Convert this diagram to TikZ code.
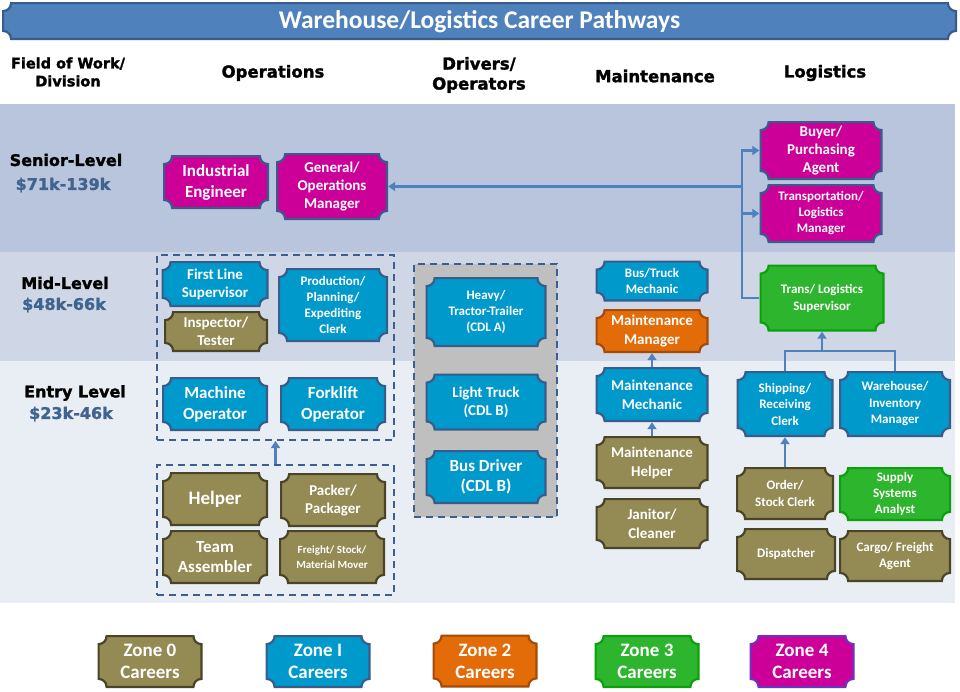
\documentclass[tikz,border=0pt]{standalone}
\usepackage{fontspec}
\setmainfont{Carlito}
\newfontfamily\headfont{DejaVu Sans}[BoldFeatures={FakeBold=1.6}]
\usetikzlibrary{calc,arrows.meta}
\definecolor{magentaF}{HTML}{CC0099}
\definecolor{blueF}{HTML}{0099CC}
\definecolor{oliveF}{HTML}{948A54}
\definecolor{greenF}{HTML}{2EB52E}
\definecolor{orangeF}{HTML}{E36C09}
\definecolor{titleF}{HTML}{4F81BD}
\definecolor{blueB}{HTML}{385D8A}
\definecolor{oliveB}{HTML}{4A4527}
\definecolor{greenB}{HTML}{0CA00C}
\definecolor{orangeB}{HTML}{A34C0A}
\definecolor{purpleB}{HTML}{7030C0}
\definecolor{seniorF}{HTML}{B9C4DD}
\definecolor{midF}{HTML}{CFD7E7}
\definecolor{entryF}{HTML}{E9EDF4}
\definecolor{grayF}{HTML}{BFBFBF}
\definecolor{dashB}{HTML}{3B5F8F}
\definecolor{arrowC}{HTML}{4F81BD}
\definecolor{salaryC}{HTML}{41648E}
\tikzset{
  job/.style 2 args={rectangle, inner sep=0pt, text=white, align=center,
    path picture={\path[fill=#1, draw=#2, line width=2.2pt, x=1pt, y=1pt]
      let \p1=($(path picture bounding box.south west)+(1.1pt,1.1pt)$),
          \p2=($(path picture bounding box.north east)-(1.1pt,1.1pt)$) in
      ({\x1+8pt},\y2) -- ({\x2-8pt},\y2) arc[start angle=180,end angle=270,radius=8pt]
      -- (\x2,{\y1+8pt}) arc[start angle=90,end angle=180,radius=8pt]
      -- ({\x1+8pt},\y1) arc[start angle=0,end angle=90,radius=8pt]
      -- (\x1,{\y2-8pt}) arc[start angle=270,end angle=360,radius=8pt] -- cycle;}},
  wh/.style 2 args={minimum width=#1pt, minimum height=#2pt},
  fs/.style 2 args={font=\bfseries\fontsize{#1}{#2}\selectfont},
  head/.style={align=center, inner sep=0pt, font=\headfont\bfseries\fontsize{16.5}{20}\selectfont},
  level/.style={inner sep=0pt, font=\headfont\bfseries\fontsize{16}{19}\selectfont},
  salary/.style={level, text=salaryC},
  group/.style={draw=dashB, line width=2pt, dash pattern=on 7pt off 5pt, inner sep=0pt},
  link/.style={draw=arrowC, line width=2.6pt},
  arr/.style={link, -{Triangle[length=7pt,width=9pt]}}
}
\begin{document}
\begin{tikzpicture}[x=1pt,y=-1pt]
      \useasboundingbox (0,0) rectangle (960,691);
      \fill[white] (0,0) rectangle (960,691);
      \fill[seniorF] (0,104) rectangle (955,252);
      \fill[midF] (0,252) rectangle (955,361);
      \fill[entryF] (0,361) rectangle (955,603);

      \node[job={titleF}{blueB}, wh={955}{38}, fs={25.5}{28}, text depth=3pt] (title) at (479.5,21) {Warehouse/Logistics Career Pathways};

      \node[head, font=\headfont\bfseries\fontsize{14.5}{18}\selectfont] (fow) at (68,72) {Field of Work/\\Division};
      \node[head] (ops) at (273,73) {Operations};
      \node[head] (drv) at (479,75) {Drivers/\\Operators};
      \node[head] (mnt) at (655,76) {Maintenance};
      \node[head] (lgs) at (825,73) {Logistics};

      \node[level] (senior) at (66,160) {Senior-Level};
      \node[salary] (sal1) at (63,185) {\$71k-139k};
      \node[level] (mid) at (65,283) {Mid-Level};
      \node[salary] (sal2) at (64,305) {\$48k-66k};
      \node[level] (entry) at (75,393) {Entry Level};
      \node[salary] (sal3) at (71,414) {\$23k-46k};

      \node[group, wh={237}{185}] (opsmid) at (275.5,347.5) {};
      \node[group, wh={237}{130}] (opsent) at (275.5,530) {};
      \node[group, fill=grayF, wh={143}{253}] (drvgrp) at (485.5,390.5) {};

      \node[job={magentaF}{blueB}, wh={106}{54}, fs={17}{21}] (ie) at (216,182) {Industrial\\Engineer};
      \node[job={magentaF}{blueB}, wh={112}{67}, fs={15}{18}] (gom) at (332,186.5) {General/\\Operations\\Manager};
      \node[job={magentaF}{blueB}, wh={123}{59}, fs={15}{18}] (buy) at (821,150.5) {Buyer/\\Purchasing\\Agent};
      \node[job={magentaF}{blueB}, wh={123}{59}, fs={13}{16}] (tlm) at (821,213.5) {Transportation/\\Logistics\\Manager};

      \node[job={blueF}{blueB}, wh={107}{46}, fs={15}{18}] (fls) at (215,284) {First Line\\Supervisor};
      \node[job={oliveF}{oliveB}, wh={104}{41}, fs={15}{18}] (ins) at (216,331.5) {Inspector/\\Tester};
      \node[job={blueF}{blueB}, wh={110}{74}, fs={13}{16}] (pec) at (333,305) {Production/\\Planning/\\Expediting\\Clerk};
      \node[job={blueF}{blueB}, wh={106}{54}, fs={17}{21}] (mop) at (215,404) {Machine\\Operator};
      \node[job={blueF}{blueB}, wh={106}{54}, fs={17}{21}] (fop) at (333,404) {Forklift\\Operator};
      \node[job={oliveF}{oliveB}, wh={106}{54}, fs={19}{22}] (hlp) at (215,499) {Helper};
      \node[job={oliveF}{oliveB}, wh={106}{54}, fs={15}{18}] (pak) at (333,500) {Packer/\\Packager};
      \node[job={oliveF}{oliveB}, wh={106}{54}, fs={17}{20}] (tas) at (215,557) {Team\\Assembler};
      \node[job={oliveF}{oliveB}, wh={106}{54}, fs={11}{15}] (frt) at (332,557) {Freight/ Stock/\\Material Mover};

      \node[job={blueF}{blueB}, wh={121}{70}, fs={13}{16}] (hvy) at (486,312) {Heavy/\\Tractor-Trailer\\(CDL A)};
      \node[job={blueF}{blueB}, wh={121}{57}, fs={15}{18}] (ltr) at (486,402) {Light Truck\\(CDL B)};
      \node[job={blueF}{blueB}, wh={121}{54}, fs={17}{20}] (bus) at (486,477) {Bus Driver\\(CDL B)};

      \node[job={blueF}{blueB}, wh={113}{41}, fs={13}{16}] (btm) at (652,281) {Bus/Truck\\Mechanic};
      \node[job={orangeF}{orangeB}, wh={113}{44}, fs={15}{19}] (mmg) at (652,331) {Maintenance\\Manager};
      \node[job={blueF}{blueB}, wh={113}{55}, fs={15}{19}] (mme) at (652,394.5) {Maintenance\\Mechanic};
      \node[job={oliveF}{oliveB}, wh={113}{53}, fs={15}{19}] (mhe) at (652,462.5) {Maintenance\\Helper};
      \node[job={oliveF}{oliveB}, wh={113}{51}, fs={15}{19}] (jan) at (652,523.5) {Janitor/\\Cleaner};

      \node[job={greenF}{greenB}, wh={125}{67}, fs={13}{17}] (tsup) at (822,298) {Trans/ Logistics\\Supervisor};
      \node[job={blueF}{blueB}, wh={97}{66}, fs={13}{16.5}] (ship) at (785,404) {Shipping/\\Receiving\\Clerk};
      \node[job={blueF}{blueB}, wh={112}{66}, fs={13}{16.5}] (whm) at (895,404) {Warehouse/\\Inventory\\Manager};
      \node[job={oliveF}{oliveB}, wh={98}{53}, fs={13}{16.5}] (ord) at (785,493.5) {Order/\\Stock Clerk};
      \node[job={greenF}{greenB}, wh={112}{54}, fs={13}{16}] (ssa) at (895,494) {Supply\\Systems\\Analyst};
      \node[job={oliveF}{oliveB}, wh={100}{52}, fs={13}{16}] (dsp) at (786,554) {Dispatcher};
      \node[job={oliveF}{oliveB}, wh={112}{52}, fs={13}{16.5}] (cfa) at (895,556) {Cargo/ Freight\\Agent};

      \node[job={oliveF}{oliveB}, wh={105}{53}, fs={19}{22}] (zone0) at (150,661.5) {Zone 0\\Careers};
      \node[job={blueF}{blueB}, wh={105}{53}, fs={19}{22}] (zone1) at (318,661.5) {Zone I\\Careers};
      \node[job={orangeF}{orangeB}, wh={105}{53}, fs={19}{22}] (zone2) at (485,661) {Zone 2\\Careers};
      \node[job={greenF}{greenB}, wh={105}{53}, fs={19}{22}] (zone3) at (647,661.5) {Zone 3\\Careers};
      \node[job={magentaF}{purpleB}, wh={105}{53}, fs={19}{22}] (zone4) at (802,661.5) {Zone 4\\Careers};

      \coordinate (jn) at (742,298);
      \coordinate (lj) at (822,351);
      \draw[arr] (tsup.west) -- (jn) |- (buy.west);
      \draw[arr] (jn |- tlm.west) -- (tlm.west);
      \draw[arr] (jn |- gom.east) -- (gom.east);
      \draw[link] (ship.north) |- (lj) -| (whm.north);
      \draw[arr] (lj) -- (tsup.south);
      \draw[arr] (ord.north) -- (ship.south);
      \draw[arr] (mme.north) -- (mmg.south);
      \draw[arr] (mhe.north) -- (mme.south);
      \draw[arr] (opsent.north) -- (opsmid.south);
\end{tikzpicture}
\end{document}
